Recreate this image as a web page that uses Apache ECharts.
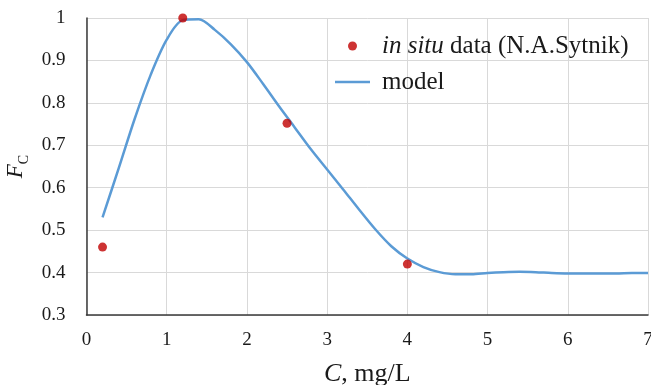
<!DOCTYPE html>
<html>
<head>
<meta charset="utf-8">
<script src="https://cdn.jsdelivr.net/npm/echarts@6/dist/echarts.min.js"></script>
<style>
html,body{margin:0;padding:0;background:#fff;}
#chart{width:651px;height:385px;}
</style>
</head>
<body>
<div id="chart"></div>
<script>
// in situ data (N.A.Sytnik)
var obsC = [0.2, 1.2, 2.5, 4.0];
var obsF = [0.46, 1.0, 0.752, 0.42];
// model curve
var modelC = [0.2, 0.4, 0.6, 0.8, 1.0, 1.2, 1.4, 1.6, 1.8, 2.0, 2.2, 2.4, 2.6, 2.8, 3.0, 3.2, 3.4, 3.6, 3.8, 4.0, 4.2, 4.4, 4.6, 4.8, 5.0, 5.2, 5.4, 5.6, 5.8, 6.0, 6.2, 6.4, 6.6, 6.8, 7.0];
var modelF = [0.53, 0.645, 0.762, 0.866, 0.949, 0.995, 0.997, 0.972, 0.938, 0.896, 0.845, 0.792, 0.741, 0.69, 0.643, 0.596, 0.548, 0.502, 0.462, 0.433, 0.413, 0.401, 0.396, 0.396, 0.399, 0.401, 0.402, 0.401, 0.399, 0.398, 0.398, 0.398, 0.398, 0.399, 0.399];
var xTicks = [0, 1, 2, 3, 4, 5, 6, 7];
var yTicks = [0.3, 0.4, 0.5, 0.6, 0.7, 0.8, 0.9, 1];
var nameObs = 'in situ data (N.A.Sytnik)';
var nameModel = 'model';

var serif = 'Liberation Serif';
var chart = echarts.init(document.getElementById('chart'));
chart.setOption({
  animation: false,
  backgroundColor: '#fff',
  textStyle: {fontFamily: serif},
  grid: {left: 86.5, right: 3, top: 18, bottom: 70, containLabel: false, outerBoundsMode: 'none'},
  legend: {
    orient: 'vertical',
    left: 330,
    top: 28,
    itemWidth: 35,
    itemHeight: 9,
    itemGap: 10,
    textStyle: {fontFamily: serif, fontSize: 25, color: '#1a1a1a', lineHeight: 26, padding: [0, 0, 0, 7],
      rich: {i: {fontFamily: serif, fontSize: 25, fontStyle: 'italic', color: '#1a1a1a', lineHeight: 26},
             n: {fontFamily: serif, fontSize: 25, color: '#1a1a1a', lineHeight: 26}}},
    formatter: function (n) {
      if (n === nameObs) return '{i|in situ}{n| data (N.A.Sytnik)}';
      return '{n|' + n + '}';
    },
    data: [
      {name: nameObs, icon: 'circle'},
      {name: nameModel, icon: 'path://M0,0 L35,0 L35,2.5 L0,2.5 Z', itemStyle: {color: '#5B9BD5'}}
    ]
  },
  xAxis: {
    type: 'value', min: xTicks[0], max: xTicks[xTicks.length - 1], interval: 1,
    axisLine: {show: true, lineStyle: {color: '#3a3a3a', width: 1.5}},
    axisTick: {show: false},
    splitLine: {show: true, lineStyle: {color: '#d9d9d9', width: 1}},
    axisLabel: {fontFamily: serif, fontSize: 19, color: '#1a1a1a', margin: 16},
    name: '{i|C}{n|, mg/L}',
    nameLocation: 'middle',
    nameGap: 46,
    nameTextStyle: {
      rich: {i: {fontFamily: serif, fontSize: 26, fontStyle: 'italic', color: '#1a1a1a'},
             n: {fontFamily: serif, fontSize: 26, color: '#1a1a1a'}}
    }
  },
  yAxis: {
    type: 'value', min: yTicks[0], max: yTicks[yTicks.length - 1], interval: 0.1,
    axisLine: {show: true, lineStyle: {color: '#3a3a3a', width: 1.5}},
    axisTick: {show: false},
    splitLine: {show: true, lineStyle: {color: '#d9d9d9', width: 1}},
    axisLabel: {fontFamily: serif, fontSize: 19, color: '#1a1a1a', margin: 21,
      formatter: function (v) { return String(Math.round(v * 10) / 10); }},
    name: '{f|F}{s|C}',
    nameLocation: 'middle',
    nameRotate: 90,
    nameGap: 53,
    nameTextStyle: {
      rich: {f: {fontFamily: serif, fontSize: 23, fontStyle: 'italic', color: '#1a1a1a', verticalAlign: 'bottom'},
             s: {fontFamily: serif, fontSize: 14, color: '#1a1a1a', verticalAlign: 'bottom', padding: [0, 0, -3, 0]}}
    }
  },
  series: [
    {
      name: nameModel,
      type: 'line',
      smooth: 0.3,
      symbol: 'none',
      lineStyle: {color: '#5B9BD5', width: 2.5},
      itemStyle: {color: '#5B9BD5'},
      data: modelC.map(function (c, i) { return [c, modelF[i]]; }),
      z: 2
    },
    {
      name: nameObs,
      type: 'scatter',
      symbolSize: 9,
      itemStyle: {color: '#C00000'},
      data: obsC.map(function (c, i) { return [c, obsF[i]]; }),
      z: 3
    }
  ]
});
</script>
</body>
</html>
